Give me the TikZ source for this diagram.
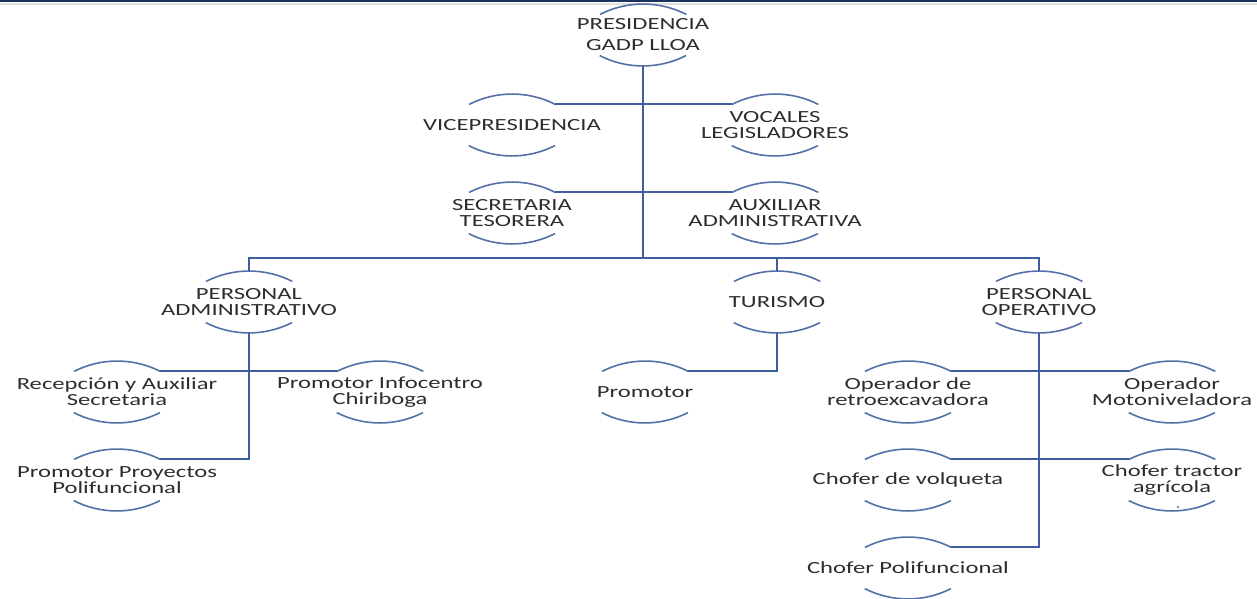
\documentclass[tikz,border=0pt]{standalone}
\usepackage{fontspec}
\newfontfamily\rolefont[FakeStretch=1.45]{Carlito}
\usetikzlibrary{calc}

\definecolor{linkblue}{RGB}{62,94,160}
\definecolor{arcblue}{RGB}{84,112,168}
\definecolor{rolegray}{RGB}{45,45,45}
\definecolor{topnavy}{RGB}{24,52,94}

\begin{document}
\begin{tikzpicture}[x=0.5pt, y=-0.5pt,
    link/.style={draw=linkblue, line width=1pt},
    rolearc/.style={draw=arcblue, line width=0.8pt}]

\useasboundingbox (0,0) rectangle (1257,599);
\fill[topnavy] (0,0) rectangle (1257,2.5);
\fill[black!12] (0,3) rectangle (1257,5);

\begin{scope}[every node/.style={align=center, inner sep=0pt, text=rolegray,
              font=\rolefont\fontsize{8.5}{8}\selectfont}]
    \node (pres) at (643,35) [font=\rolefont\fontsize{8.5}{10.5}\selectfont] {PRESIDENCIA\\GADP LLOA};

    \node (vice) at (512,125) {VICEPRESIDENCIA};
    \node (vocales) at (775,125) {VOCALES\\LEGISLADORES};
    \node (secre) at (512,213) {SECRETARIA\\TESORERA};
    \node (auxadm) at (775,213) {AUXILIAR\\ADMINISTRATIVA};

    \node (peradm) at (249,302) {PERSONAL\\ADMINISTRATIVO};
    \node (turismo) at (777,302) {TURISMO};
    \node (perop) at (1039,302) {PERSONAL\\OPERATIVO};

    \node (recep) at (117,392) {Recepción y Auxiliar\\Secretaria};
    \node (infocentro) at (380,392) {Promotor Infocentro\\Chiriboga};
    \node (proyectos) at (117,480) {Promotor Proyectos\\Polifuncional};

    \node (promotor) at (645,392) {Promotor};

    \node (retro) at (908,392) {Operador de\\retroexcavadora};
    \node (motonivel) at (1172,392) {Operador\\Motoniveladora};
    \node (volqueta) at (908,480) {Chofer de volqueta};
    \node (tractor) at (1172,480) {Chofer tractor\\agrícola};
    \node (choferpoli) at (908,568) {Chofer Polifuncional};
\end{scope}

% top and bottom arcs of every role
\foreach \n in {pres,vice,vocales,secre,auxadm,peradm,turismo,perop,recep,
                infocentro,proyectos,promotor,retro,motonivel,volqueta,tractor,choferpoli} {
    \coordinate (\n-ne) at ($(\n)+(43.3,-20.6)$);
    \coordinate (\n-nw) at ($(\n)+(-43.3,-20.6)$);
    \coordinate (\n-n) at ($(\n)+(0,-31)$);
    \coordinate (\n-s) at ($(\n)+(0,31)$);
    \draw[rolearc] (\n-ne) arc[start angle=63, end angle=117, radius=47.5pt];
    \draw[rolearc] ($(\n)+(-43.3,20.6)$) arc[start angle=243, end angle=297, radius=47.5pt];
}
\fill[arcblue] (1178,507) circle (0.6pt);

\coordinate (bus) at (643,258);

\begin{scope}[every path/.style={link}]
    \draw (pres-s) -- (bus);
    \draw (vice-ne) -- (vice-ne -| pres-s);
    \draw (vocales-nw) -- (vocales-nw -| pres-s);
    \draw (secre-ne) -- (secre-ne -| pres-s);
    \draw (auxadm-nw) -- (auxadm-nw -| pres-s);

    \draw (peradm-n) |- (bus) -| (perop-n);
    \draw (turismo-n) -- (turismo-n |- bus);

    \draw (recep-ne) -- (infocentro-nw);
    \draw (peradm-s) |- (proyectos-ne);

    \draw (turismo-s) |- (promotor-ne);

    \draw (retro-ne) -- (motonivel-nw);
    \draw (volqueta-ne) -- (tractor-nw);
    \draw (perop-s) |- (choferpoli-ne);
\end{scope}
\end{tikzpicture}
\end{document}
